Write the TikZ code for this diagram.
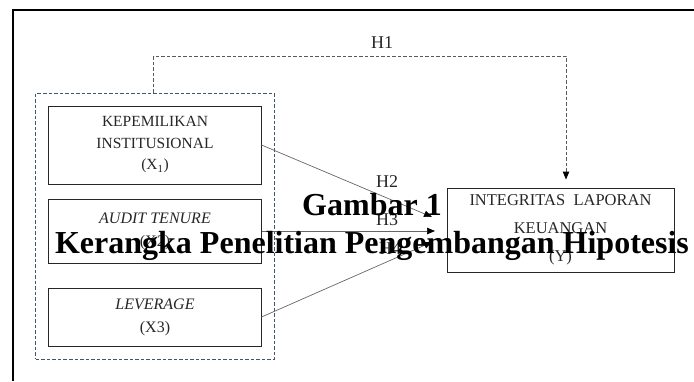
\documentclass[tikz,border=0pt]{standalone}
\usepackage{fontspec}
\setmainfont{Liberation Serif}
\usepackage{tikz}
\usetikzlibrary{fit,calc,arrows.meta,positioning}
\definecolor{grpblue}{HTML}{44546A}
\tikzset{
  varbox/.style  = {draw=black!85, line width=1bp, text=black!85, align=center,
                    minimum width=212bp, inner sep=0pt,
                    font=\fontsize{16bp}{23bp}\selectfont},
  depbox/.style  = {varbox, minimum width=227bp, minimum height=84bp,
                    font=\fontsize{16.5bp}{28bp}\selectfont},
  grpbox/.style  = {draw=grpblue, dash pattern=on 3.5bp off 2bp, line width=1bp,
                    inner sep=12.5bp},
  hyp/.style     = {-{Triangle[length=8bp,width=6.5bp,color=black]},
                    line width=0.7bp, black!60},
  hypone/.style  = {-{Triangle[length=8bp,width=6.5bp,color=black]},
                    dash pattern=on 3.5bp off 2bp, line width=1bp, black!65,
                    shorten >=8bp},
  hlab/.style    = {text=black!85, inner sep=0pt, font=\fontsize{18bp}{20bp}\selectfont},
  caplab/.style  = {anchor=base, inner sep=0pt, font=\fontsize{32bp}{38bp}\selectfont\bfseries},
}

\begin{document}
\begin{tikzpicture}[x=1bp, y=-1bp]
  \useasboundingbox (0,0) rectangle (694,381);
  % frame
  \draw[line width=2bp] (694,10) -- (13,10) -- (13,381);

  % variables
  \node[varbox, minimum height=78bp, font=\fontsize{15.5bp}{21.5bp}\selectfont] (kep) at (155,145)
       {KEPEMILIKAN\\INSTITUSIONAL\\(X\textsubscript{1})};
  \node[varbox, minimum height=64bp] (aud) at (155,231) {\textit{AUDIT TENURE}\\(X2)};
  \node[varbox, minimum height=58bp] (lev) at (155,317) {\textit{LEVERAGE}\\(X3)};
  \node[grpbox, fit=(kep)(lev)] (grp) {};

  \node[depbox] (ilk) at (560.5,230) {INTEGRITAS~~LAPORAN\\KEUANGAN\\(Y)};

  % hypotheses
  \coordinate (h1top) at (566,56);
  \coordinate (h2end) at (432,217);
  \coordinate (h3end) at (435,231);
  \coordinate (h4end) at (432,242);
  \draw[hypone] ([xshift=-1.5bp]grp.north) |- (h1top) -- (h1top |- ilk.north);
  \draw[hyp] (kep.east) -- (h2end);
  \draw[hyp] (aud.east) -- (h3end);
  \draw[hyp] (lev.east) -- (h4end);

  \node[hlab] (h1) at (382,43) {H1};
  \node[hlab] (h2) at (387,182) {H2};
  \node[hlab] (h3) at (387,220) {H3};
  \node[hlab] (h4) at (390,249) {H4};

  % caption
  \node[caplab] (cap1) at (372,215) {Gambar 1};
  \node[caplab] (cap2) at (372,253) {Kerangka Penelitian Pengembangan Hipotesis};
\end{tikzpicture}
\end{document}
